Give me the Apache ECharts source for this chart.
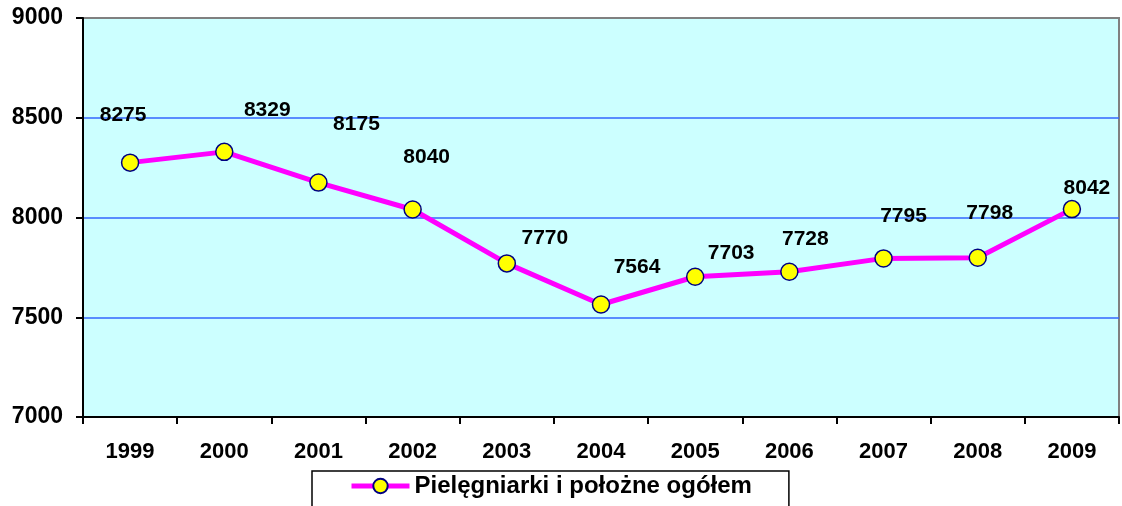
<!DOCTYPE html>
<html>
<head>
<meta charset="utf-8">
<script src="https://cdn.jsdelivr.net/npm/echarts@6/dist/echarts.min.js"></script>
<style>
  html, body { margin: 0; padding: 0; background: #fff; }
  #chart { width: 1122px; height: 506px; }
</style>
</head>
<body>
<div id="chart"></div>
<script>
// data
const years = ['1999', '2000', '2001', '2002', '2003', '2004', '2005', '2006', '2007', '2008', '2009'];
const values = [8275, 8329, 8175, 8040, 7770, 7564, 7703, 7728, 7795, 7798, 8042];
const seriesName = 'Pielęgniarki i położne ogółem';

// label placement (pixels from the point)
const labelShift = [[-7, -47], [43, -42], [38, -58], [14, -52], [38, -25], [36, -37],
  [36, -24], [16, -33], [20, -42], [12, -45], [15, -21]];

const font = 'Arial, "Liberation Sans", sans-serif';
let chart = echarts.init(document.getElementById('chart'), null, {renderer: 'canvas'});

const option = {
  animation: false,
  backgroundColor: '#ffffff',
  grid: {
    left: 83, right: 3, top: 18, bottom: 89,
    show: true, backgroundColor: '#CCFFFF', borderColor: '#808080', borderWidth: 2
  },
  legend: {
    data: [seriesName],
    left: 312, top: 471,
    padding: [3, 37, 14, 37],
    borderColor: '#000', borderWidth: 1.5,
    itemWidth: 58, itemHeight: 18,
    lineStyle: {width: 5},
    textStyle: {fontFamily: font, fontWeight: 'bold', fontSize: 24, color: '#000'}
  },
  xAxis: {
    type: 'category',
    data: years,
    boundaryGap: true,
    axisLine: {lineStyle: {color: '#000', width: 2}},
    axisTick: {show: true, length: 7, lineStyle: {color: '#000', width: 2}},
    axisLabel: {fontFamily: font, fontWeight: 'bold', fontSize: 22, color: '#000', margin: 24}
  },
  yAxis: {
    type: 'value',
    min: 7000, max: 9000, interval: 500,
    axisLine: {show: true, lineStyle: {color: '#000', width: 2}},
    axisTick: {show: true, length: 7, lineStyle: {color: '#000', width: 2}},
    axisLabel: {
      fontFamily: font, fontWeight: 'bold', fontSize: 23, color: '#000', margin: 20,
      formatter: v => String(v)
    },
    splitLine: {lineStyle: {color: ['#000', '#3366FF', '#3366FF', '#3366FF', '#808080'], width: 1.5}}
  },
  series: [{
    name: seriesName,
    type: 'line',
    data: values.map((v, i) => ({
      value: v,
      label: {offset: labelShift[i]}
    })),
    symbol: 'circle',
    symbolSize: 17,
    lineStyle: {color: '#FF00FF', width: 5},
    itemStyle: {color: '#FFFF00', borderColor: '#000080', borderWidth: 1.5},
    label: {
      show: true, position: 'inside',
      fontFamily: font, fontWeight: 'bold', fontSize: 21, color: '#000'
    },
    z: 3
  }]
};

chart.setOption(option);
window.onresize = function() {
  chart.resize();
};
</script>
</body>
</html>
